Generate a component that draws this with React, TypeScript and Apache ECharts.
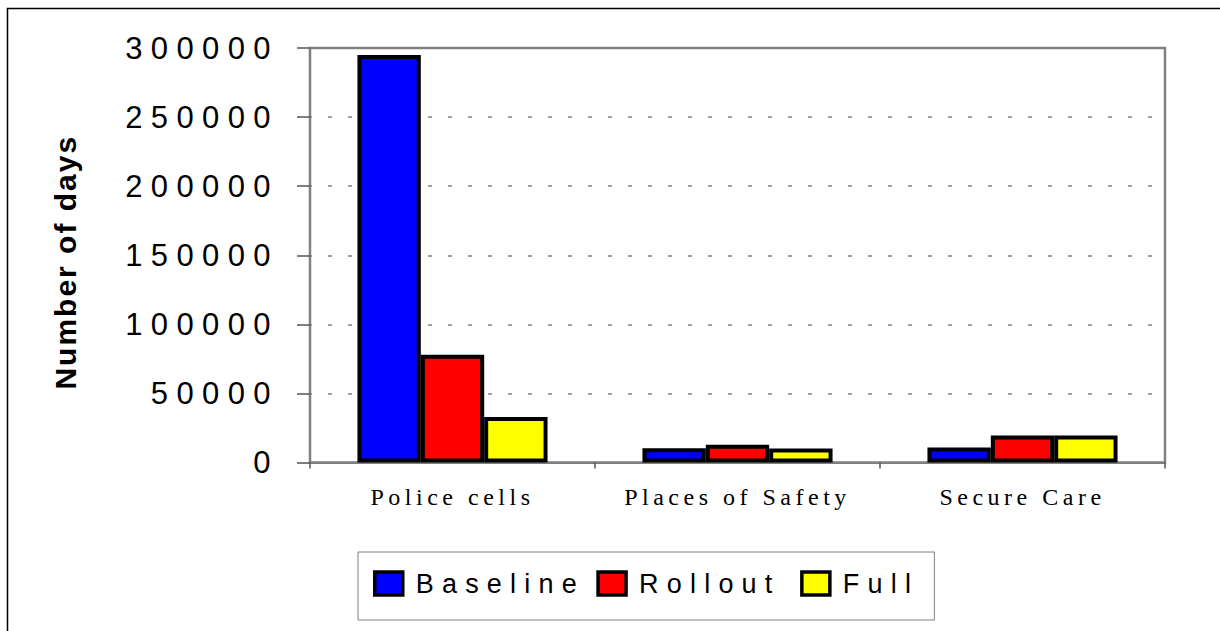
import React, { useEffect, useRef } from "react";
import * as echarts from "echarts";

const categories = ["Police cells", "Places of Safety", "Secure Care"];
const seriesNames = ["Baseline", "Rollout", "Full"];
const baselineValues = [295000, 10300, 10800];
const rolloutValues = [78000, 12800, 19500];
const fullValues = [33000, 10100, 19500];
const seriesColors = ["#0000FF", "#FF0000", "#FFFF00"];
const yTicks = { min: 0, max: 300000, interval: 50000 };
const yAxisName = "Number of days";

const css = `
#root text[style*="31px"] { letter-spacing: 8.4px; }
#root text[style*="30px"] { letter-spacing: 2px; }
#root text[style*="24px"] { letter-spacing: 4.5px; }
#root text[style*="27px"] { letter-spacing: 8.2px; }
`;

export default function App() {
  const ref = useRef<HTMLDivElement>(null);
  useEffect(() => {
    if (!ref.current) return;
    const chart = echarts.init(ref.current, null, { renderer: "svg" });
    const values = [baselineValues, rolloutValues, fullValues];
    chart.setOption({
      animation: false,
      backgroundColor: "#ffffff",
      graphic: [
        {
          type: "rect",
          shape: { x: 7.5, y: 8.5, width: 1400, height: 800 },
          style: { fill: "none", stroke: "#000", lineWidth: 1.5 },
          silent: true,
          z: 100,
        },
      ],
      grid: {
        left: 310,
        right: 55,
        top: 48,
        bottom: 168.5,
        show: true,
        borderColor: "#808080",
        borderWidth: 2.5,
      },
      legend: {
        data: seriesNames,
        left: 358,
        top: 552,
        orient: "horizontal",
        padding: [18, 48, 23, 15],
        borderColor: "#808080",
        borderWidth: 1,
        itemWidth: 28,
        itemHeight: 23,
        itemGap: 77,
        icon: "rect",
        itemStyle: { borderColor: "#000", borderWidth: 3.5 },
        textStyle: {
          fontFamily: "Liberation Sans",
          fontSize: 27,
          color: "#000",
          padding: [0, 0, 0, 8],
        },
      },
      xAxis: {
        type: "category",
        data: categories,
        axisLine: { show: true, lineStyle: { color: "#808080", width: 2 } },
        axisTick: { show: true, inside: false, length: 6, lineStyle: { color: "#555", width: 1.5 } },
        axisLabel: {
          fontFamily: "Liberation Serif",
          fontSize: 24,
          color: "#000",
          margin: 22,
        },
        splitLine: { show: false },
      },
      yAxis: {
        type: "value",
        min: yTicks.min,
        max: yTicks.max,
        interval: yTicks.interval,
        name: yAxisName,
        nameLocation: "middle",
        nameGap: 230,
        nameRotate: 90,
        nameTextStyle: {
          fontFamily: "Liberation Sans",
          fontWeight: "bold",
          fontSize: 30,
          color: "#000",
          padding: [0, 14, 0, 0],
        },
        axisLine: { show: true, lineStyle: { color: "#808080", width: 2 } },
        axisTick: { show: true, inside: false, length: 13, lineStyle: { color: "#555", width: 1.5 } },
        axisLabel: {
          fontFamily: "Liberation Sans",
          fontSize: 31,
          color: "#000",
          margin: 31,
          formatter: (v: number) => String(v),
        },
        splitLine: {
          show: true,
          lineStyle: { color: "#808080", width: 1.5, type: [4, 16], dashOffset: 2 },
        },
      },
      series: seriesNames.map((name, i) => ({
        name,
        type: "bar",
        data: values[i],
        barGap: "0%",
        barCategoryGap: "33.3%",
        itemStyle: { color: seriesColors[i], borderColor: "#000", borderWidth: 4 },
      })),
    });
    return () => chart.dispose();
  }, []);
  return (
    <>
      <style>{css}</style>
      <div
        ref={ref}
        style={{ position: "fixed", left: 0, top: 0, width: 1220, height: 631 }}
      />
    </>
  );
}
